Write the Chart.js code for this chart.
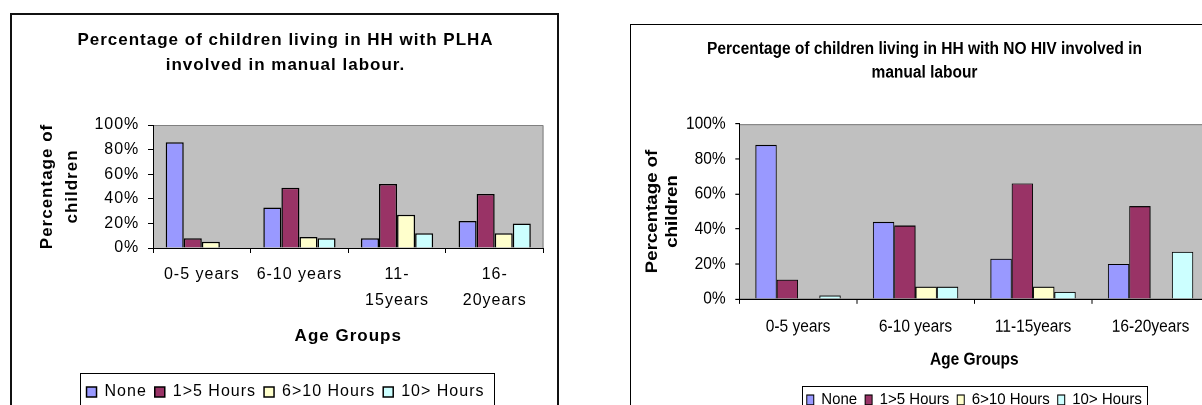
<!DOCTYPE html>
<html>
<head>
<meta charset="utf-8">
<title>Children in manual labour by household HIV status</title>
<script src="https://cdn.jsdelivr.net/npm/chart.js@4.4.1/dist/chart.umd.min.js"></script>
<style>
  html, body { margin: 0; padding: 0; background: #fff; }
  body { width: 1202px; height: 405px; overflow: hidden; position: relative; }
  .frame { position: absolute; box-sizing: border-box; }
  #frameL { left: 10px; top: 13px; width: 549px; height: 430px; border: 2px solid #111; }
  #frameR { left: 630px; top: 24px; width: 700px; height: 430px; border: 1px solid #000; }
  #wrapL { position: absolute; left: 0; top: 0; }
  #wrapR { position: absolute; left: 630px; top: 0; transform: scaleY(1.1); transform-origin: 0 0; }
</style>
</head>
<body>
<div class="frame" id="frameL"></div>
<div class="frame" id="frameR"></div>
<div id="wrapL"><canvas id="plha" width="600" height="430"></canvas></div>
<div id="wrapR"><canvas id="nohiv" width="600" height="400"></canvas></div>
<script>
// Age groups (the PLHA chart wraps the two longer labels)
const categoriesPLHA = ['0-5 years', '6-10 years', ['11-', '15years'], ['16-', '20years']];
const categoriesNoHIV = ['0-5 years', '6-10 years', '11-15years', '16-20years'];

// Hours of manual labour
const seriesNames = ['None', '1>5 Hours', '6>10 Hours', '10> Hours'];
const seriesColors = ['#9999FF', '#993366', '#FFFFCC', '#CCFFFF'];

// Households with PLHA (% of children)
const plhaNone = [86, 33, 8, 22];
const plha1to5 = [8, 49, 52, 44];
const plha6to10 = [5, 9, 27, 12];
const plha10plus = [0, 8, 12, 20];

// Households with no HIV (% of children)
const noHivNone = [88, 44, 23, 20];
const noHiv1to5 = [11, 42, 66, 53];
const noHiv6to10 = [0, 7, 7, 0];
const noHiv10plus = [2, 7, 4, 27];

// Value axis ticks (%)
const yTicks = [0, 20, 40, 60, 80, 100];

const FONT = "'Liberation Sans', Arial, Helvetica, sans-serif";

function makeSets(values, borderWidth) {
  return values.map((v, i) => ({
    label: seriesNames[i],
    data: v,
    backgroundColor: seriesColors[i],
    borderColor: '#000',
    borderWidth: borderWidth,
    inflateAmount: 0
  }));
}

// Grey plot area with a grey frame on top and right
const plotFrame = {
  id: 'plotFrame',
  beforeDraw(chart) {
    const { ctx, chartArea: a } = chart;
    ctx.save();
    ctx.fillStyle = '#C0C0C0';
    ctx.fillRect(a.left, a.top, a.right - a.left, a.bottom - a.top);
    ctx.strokeStyle = '#808080';
    ctx.lineWidth = 1;
    ctx.beginPath();
    ctx.moveTo(a.left, a.top + 0.5);
    ctx.lineTo(a.right - 0.5, a.top + 0.5);
    ctx.lineTo(a.right - 0.5, a.bottom);
    ctx.stroke();
    ctx.restore();
  }
};

// Letter spacing applied to all text of a chart
function spacing(px) {
  return {
    id: 'spacing',
    beforeUpdate(chart) { chart.ctx.letterSpacing = px; },
    beforeDraw(chart) { chart.ctx.letterSpacing = px; }
  };
}

// Frame drawn around the legend row
function legendFrame(padLeft, padRight, topOffset) {
  return {
    id: 'legendFrame',
    afterDraw(chart) {
      const lg = chart.legend;
      const pad = lg.options.labels.padding;
      const total = lg.lineWidths[0];
      const start = (lg.left + pad + lg.right - total) / 2;
      const end = start + total - pad;
      const ctx = chart.ctx;
      ctx.save();
      ctx.strokeStyle = '#000';
      ctx.lineWidth = 1;
      ctx.strokeRect(Math.round(start - padLeft) + 0.5, Math.round(lg.top + topOffset) + 0.5,
        Math.round(end - start + padLeft + padRight), 200);
      ctx.restore();
    }
  };
}

// Centre the legend under the plot area instead of the whole chart
const legendUnderPlot = {
  id: 'legendUnderPlot',
  afterLayout(chart) {
    const lg = chart.legend, a = chart.chartArea;
    const d = (a.left + a.right) / 2 - (lg.left + lg.right) / 2;
    lg.left += d;
    lg.right += d;
  }
};

function scalesFor(o) {
  return {
    x: {
      ticks: { font: { family: FONT, size: o.tickSize, lineHeight: o.xTickLH }, color: '#000',
               padding: o.xTickPad, maxRotation: 0, minRotation: 0, autoSkip: false },
      grid: { offset: true, drawOnChartArea: false, drawTicks: true, tickLength: o.xTickLen, color: '#000', lineWidth: 1 },
      border: { display: true, color: '#000', width: 1 },
      title: { display: true, text: 'Age Groups', color: '#000',
               font: { family: FONT, size: o.axisTitleSize, weight: 'bold', lineHeight: o.xTitleLH },
               padding: { top: 0, bottom: o.xTitlePad } },
      afterFit(s) { s.height = o.xHeight; }
    },
    y: {
      min: yTicks[0],
      max: yTicks[yTicks.length - 1],
      ticks: { stepSize: yTicks[1] - yTicks[0], callback: v => v + '%',
               font: { family: FONT, size: o.tickSize }, color: '#000', padding: o.yTickPad },
      grid: { drawOnChartArea: false, drawTicks: true, tickLength: o.yTickLen, color: '#000', lineWidth: 1 },
      border: { display: true, color: '#000', width: 1 },
      title: { display: true, text: ['Percentage of', 'children'], color: '#000',
               font: { family: FONT, size: o.yTitleSize, weight: 'bold', lineHeight: o.yTitleLH },
               padding: { top: o.yTitlePad, bottom: 0 } },
      afterFit(s) { s.width = o.yWidth; }
    }
  };
}

// Left chart: households with PLHA
new Chart(document.getElementById('plha'), {
  type: 'bar',
  data: { labels: categoriesPLHA, datasets: makeSets([plhaNone, plha1to5, plha6to10, plha10plus], 1.5) },
  options: {
    responsive: false,
    animation: false,
    devicePixelRatio: 1,
    layout: { padding: { left: 27.5, right: 56.5, top: 0, bottom: 20 } },
    datasets: { bar: { categoryPercentage: 0.74, barPercentage: 1 } },
    plugins: {
      title: {
        display: true,
        text: ['Percentage of children living in HH with PLHA', 'involved in manual labour.'],
        color: '#000',
        font: { family: FONT, size: 17, weight: 'bold', lineHeight: '25px' },
        padding: { top: 27.5, bottom: 47.5 }
      },
      legend: {
        position: 'bottom',
        labels: { font: { family: FONT, size: 16 }, color: '#000', boxWidth: 10, boxHeight: 10, padding: 8 }
      },
      tooltip: { enabled: false }
    },
    scales: scalesFor({
      tickSize: 16, xTickLH: '26px', xTickPad: 9, xTickLen: 5,
      axisTitleSize: 17, xTitleLH: '20px', xTitlePad: 30, xHeight: 128,
      yTickPad: 8.7, yTickLen: 5, yTitleSize: 17, yTitleLH: '25px', yTitlePad: 7, yWidth: 125.5
    })
  },
  plugins: [spacing('1px'), plotFrame, legendFrame(7, 9, -3)]
});

// Right chart: households with no HIV
new Chart(document.getElementById('nohiv'), {
  type: 'bar',
  data: { labels: categoriesNoHIV, datasets: makeSets([noHivNone, noHiv1to5, noHiv6to10, noHiv10plus], 1) },
  options: {
    responsive: false,
    animation: false,
    devicePixelRatio: 2,
    layout: { padding: { left: 9.7, right: 20.7, top: 0, bottom: 18.9 } },
    datasets: { bar: { categoryPercentage: 0.726, barPercentage: 1 } },
    plugins: {
      title: {
        display: true,
        text: ['Percentage of children living in HH with NO HIV involved in', 'manual labour'],
        color: '#000',
        font: { family: FONT, size: 15.5, weight: 'bold', lineHeight: '21.5px' },
        padding: { top: 34, bottom: 35.7 }
      },
      legend: {
        position: 'bottom',
        labels: { font: { family: FONT, size: 15 }, color: '#000', boxWidth: 7, boxHeight: 9, padding: 8 }
      },
      tooltip: { enabled: false }
    },
    scales: scalesFor({
      tickSize: 15.5, xTickLH: '18.6px', xTickPad: 11.7, xTickLen: 4.5,
      axisTitleSize: 15.5, xTitleLH: '18.6px', xTitlePad: 11.5, xHeight: 76.3,
      yTickPad: 9.6, yTickLen: 4, yTitleSize: 17, yTitleLH: '20px', yTitlePad: 2.8, yWidth: 99.6
    })
  },
  plugins: [plotFrame, legendUnderPlot, legendFrame(4.5, 5, 2.8)]
});
</script>
</body>
</html>
